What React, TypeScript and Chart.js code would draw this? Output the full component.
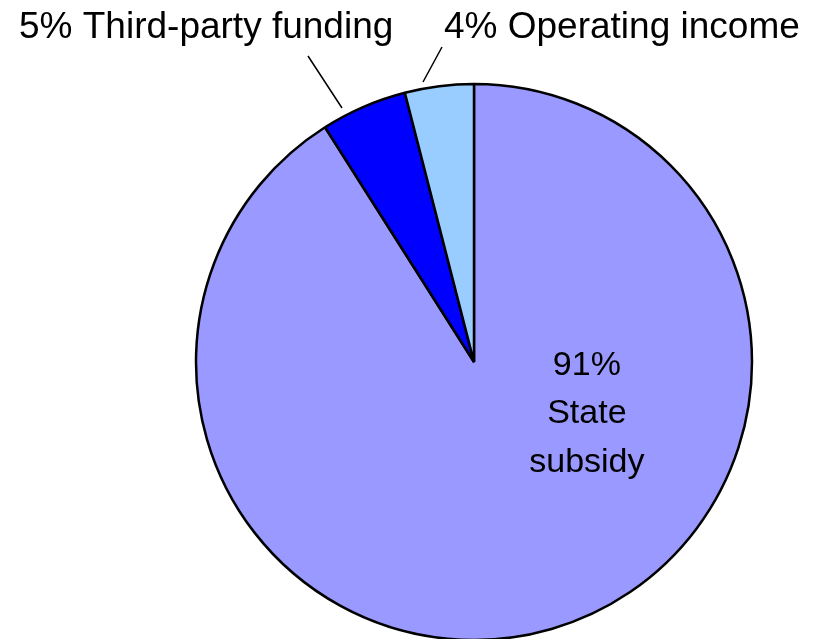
import React, { useEffect, useRef } from "react";
import { Chart, registerables } from "chart.js";

Chart.register(...registerables);

const categories = ["State subsidy", "Third-party funding", "Operating income"];
const values = [91, 5, 4];
const colors = ["#9999FF", "#0000FF", "#99CCFF"];
const innerLabelLines = ["91%", "State", "subsidy"];
const FONT = '"Liberation Sans", Arial, sans-serif';

const labelPlugin = {
  id: "pieLabels",
  afterDatasetsDraw(chart: any) {
    const meta = chart.getDatasetMeta(0);
    const arc = meta.data[0];
    if (!arc) return;
    const { x: cx, y: cy, outerRadius: r } = arc.getProps(["x", "y", "outerRadius"], true);
    const ctx = chart.ctx;
    ctx.save();
    ctx.fillStyle = "#000";
    ctx.strokeStyle = "#000";
    ctx.textBaseline = "alphabetic";

    // inner label for the big slice
    ctx.font = `34px ${FONT}`;
    ctx.textAlign = "center";
    const ix = cx + 0.406 * r;
    const baseY = [cy + 13, cy + 61, cy + 110];
    innerLabelLines.forEach((t, i) => ctx.fillText(t, ix, baseY[i]));

    // outside labels
    ctx.font = `37px ${FONT}`;
    ctx.textAlign = "left";
    ctx.fillText(`${values[1]}% ${categories[1]}`, cx - 455, cy - 324);
    ctx.fillText(`${values[2]}% ${categories[2]}`, cx - 30, cy - 324);

    // leader lines
    ctx.lineWidth = 1.5;
    ctx.beginPath();
    ctx.moveTo(cx - 166, cy - 306);
    ctx.lineTo(cx - 132, cy - 254);
    ctx.moveTo(cx - 32, cy - 315);
    ctx.lineTo(cx - 51, cy - 280);
    ctx.stroke();
    ctx.restore();
  },
};

export default function App() {
  const ref = useRef<HTMLCanvasElement | null>(null);
  useEffect(() => {
    if (!ref.current) return;
    const chart = new Chart(ref.current, {
      type: "pie",
      data: {
        labels: categories,
        datasets: [
          {
            data: values,
            backgroundColor: colors,
            borderColor: "#000000",
            borderWidth: 2.5,
          },
        ],
      },
      options: {
        responsive: false,
        animation: false,
        radius: 278,
        layout: { padding: { left: 131, top: 85, right: 0, bottom: 0 } },
        plugins: {
          legend: { display: false },
          tooltip: { enabled: false },
        },
      } as any,
      plugins: [labelPlugin],
    });
    return () => chart.destroy();
  }, []);
  return (
    <div style={{ position: "absolute", left: 0, top: 0, width: 817, height: 639, background: "#fff" }}>
      <canvas ref={ref} width={817} height={639} />
    </div>
  );
}
